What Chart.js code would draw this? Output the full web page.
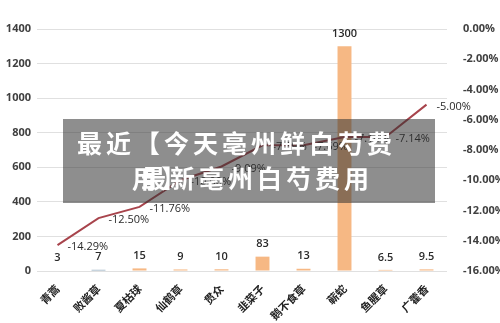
<!DOCTYPE html>
<html>
<head>
<meta charset="utf-8">
<script src="https://cdn.jsdelivr.net/npm/chart.js@4.4.0/dist/chart.umd.min.js"></script>
<style>
  body { margin: 0; background: #fff; }
  #wrap { position: relative; width: 500px; height: 323px; }
  #box {
    position: absolute; left: 63px; top: 119px; width: 372px; height: 84px;
    background: rgba(50,50,50,0.55);
  }
  .t {
    position: absolute; color: #fff; font-family: "Noto Sans CJK SC", sans-serif;
    font-weight: bold; font-size: 25px; letter-spacing: 4px; white-space: nowrap; line-height: 28px;
  }
</style>
</head>
<body>
<div id="wrap">
  <canvas id="canvas" width="500" height="323"></canvas>
  <div id="box">
    <div class="t" style="left:14px;top:9px;">最近【今天亳州鲜白芍费</div>
    <div class="t" style="left:69px;top:44px;">用】</div>
    <div class="t" style="left:78px;top:44px;">最新亳州白芍费用</div>
  </div>
</div>
<script>
// 品种
var categories = ["青蒿","败酱草","夏枯球","仙鹤草","贯众","韭菜子","鹅不食草","蕲蛇","鱼腥草","广藿香"];
// 价格 (左轴)
var priceValues = [3,7,15,9,10,83,13,1300,6.5,9.5];
// 涨跌幅 % (右轴)
var changeValues = [-14.29,-12.50,-11.76,-10.00,-9.09,-7.69,-7.69,-7.14,-7.14,-5.00];

var barColors = categories.map(function(c, i){ return i == 1 ? '#8fa9bd' : '#f6b884'; });

// 数据标签
var labelPlugin = {
    id: 'labels',
    afterDatasetsDraw: function(chart){
        var ctx = chart.ctx;
        ctx.save();
        var bars = chart.getDatasetMeta(0).data;
        ctx.font = '600 11px "Open Sans", sans-serif';
        ctx.fillStyle = '#2a2a2a';
        ctx.textAlign = 'center';
        ctx.textBaseline = 'bottom';
        bars.forEach(function(el, i){
            ctx.fillText(String(priceValues[i]), el.x, el.y - 7);
        });
        var pts = chart.getDatasetMeta(1).data;
        ctx.font = '11px "Open Sans", sans-serif';
        ctx.textAlign = 'left';
        ctx.textBaseline = 'middle';
        pts.forEach(function(el, i){
            ctx.fillText(changeValues[i].toFixed(2) + '%', el.x + 10, el.y + 2);
        });
        ctx.restore();
    }
};

window.onload = function(){
    var ctx = document.getElementById("canvas").getContext("2d");
    window.myChart = new Chart(ctx, {
        type: 'bar',
        data: {
            labels: categories,
            datasets: [
                {
                    type: 'bar',
                    data: priceValues,
                    backgroundColor: barColors,
                    barPercentage: 0.34,
                    categoryPercentage: 1,
                    yAxisID: 'y',
                    order: 2
                },
                {
                    type: 'line',
                    data: changeValues,
                    borderColor: '#a8444c',
                    borderWidth: 2,
                    pointRadius: 0,
                    tension: 0,
                    yAxisID: 'y1',
                    order: 1
                }
            ]
        },
        options: {
            responsive: false,
            animation: false,
            layout: { padding: { top: 29, left: 0, right: 0, bottom: 0 } },
            plugins: { legend: { display: false }, tooltip: { enabled: false } },
            scales: {
                x: {
                    grid: { display: false },
                    border: { display: false },
                    ticks: {
                        autoSkip: false, maxRotation: 45, minRotation: 45,
                        color: '#222', padding: 3,
                        font: { family: '"Noto Sans CJK SC", sans-serif', size: 11, weight: 'bold' }
                    },
                    afterFit: function(s){ s.height = 52; }
                },
                y: {
                    position: 'left',
                    min: 0, max: 1400,
                    ticks: {
                        stepSize: 200, color: '#404040', padding: 6,
                        font: { family: '"Open Sans", sans-serif', size: 11, weight: 'bold' },
                        callback: function(v){ return String(v); }
                    },
                    grid: { color: '#e0e0e0', drawTicks: false },
                    border: { display: false },
                    afterFit: function(s){ s.width = 37; }
                },
                y1: {
                    position: 'right',
                    min: -16, max: 0,
                    ticks: {
                        stepSize: 2, color: '#404040', padding: 8,
                        font: { family: '"Open Sans", sans-serif', size: 11, weight: 'bold' },
                        callback: function(v){ return v.toFixed(2) + '%'; }
                    },
                    grid: { display: false },
                    border: { display: false },
                    afterFit: function(s){ s.width = 53; }
                }
            }
        },
        plugins: [labelPlugin]
    });
};
</script>
</body>
</html>
